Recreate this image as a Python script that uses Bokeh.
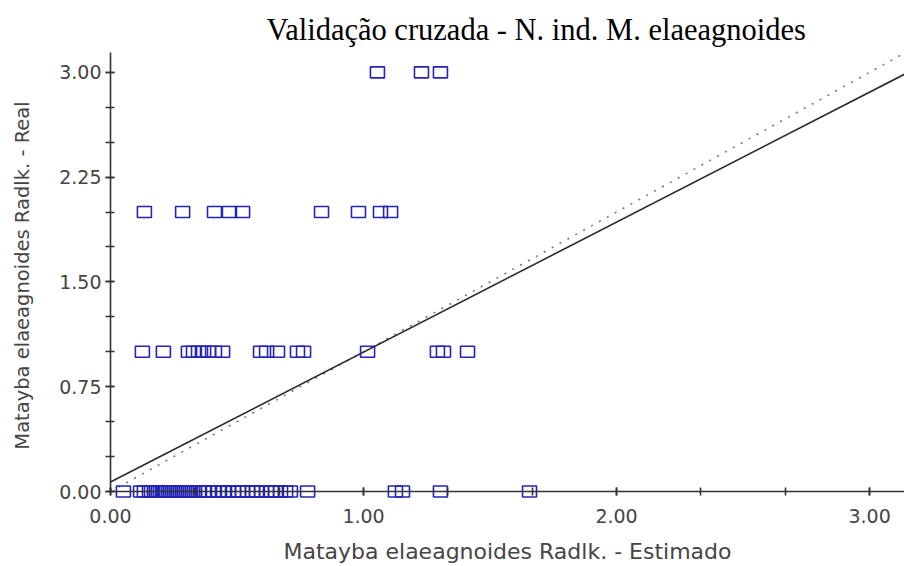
from bokeh.plotting import figure
from bokeh.models import (Range1d, SingleIntervalTicker, LinearAxis, Title,
                          PrintfTickFormatter, ColumnDataSource, Span)
from bokeh.embed import file_html
from bokeh.resources import INLINE

# ---- data ----
title_text = "Validação cruzada - N. ind. M. elaeagnoides"
x_label = "Matayba elaeagnoides Radlk. - Estimado"
y_label = "Matayba elaeagnoides Radlk. - Real"

est_real0 = [0.051, 0.119, 0.134, 0.154, 0.162, 0.174, 0.182, 0.190, 0.198,
             0.206, 0.213, 0.221, 0.229, 0.237, 0.245, 0.253, 0.261, 0.269,
             0.277, 0.285, 0.292, 0.300, 0.308, 0.316, 0.324, 0.332, 0.348,
             0.368, 0.387, 0.407, 0.427, 0.447, 0.466, 0.486, 0.506, 0.522,
             0.542, 0.561, 0.577, 0.597, 0.617, 0.636, 0.652, 0.672, 0.692,
             0.711, 0.779, 1.126, 1.154, 1.304, 1.656]
est_real1 = [0.126, 0.209, 0.308, 0.328, 0.348, 0.368, 0.387, 0.411, 0.443,
             0.593, 0.617, 0.660, 0.739, 0.763, 1.016, 1.292, 1.316, 1.411]
est_real2 = [0.134, 0.285, 0.411, 0.470, 0.522, 0.834, 0.980, 1.067, 1.107]
est_real3 = [1.055, 1.229, 1.304]

real_values = [0.0, 1.0, 2.0, 3.0]
est_groups = [est_real0, est_real1, est_real2, est_real3]

# regression of Real on Estimado (solid) and the 1:1 line (dotted)
reg_intercept = 0.068
reg_slope = 0.93
line_x = [0.0, 3.2]

x_tick_interval = 1.0
y_tick_interval = 0.75

# ---- build ----
xs, ys = [], []
for r, g in zip(real_values, est_groups):
    xs.extend(g)
    ys.extend([r] * len(g))
src = ColumnDataSource(dict(x=xs, y=ys))

p = figure(width=904, height=566, output_backend="svg", toolbar_location=None,
           x_range=Range1d(0, 3.138), y_range=Range1d(-0.05, 3.142),
           x_axis_type=None, y_axis_type=None,
           min_border_left=110, min_border_right=0, min_border_top=52,
           min_border_bottom=68)
p.outline_line_color = None
p.background_fill_color = "white"
p.border_fill_color = "white"

t = Title(text=title_text, align="left", offset=156, standoff=12,
          text_font="Liberation Serif", text_font_size="30.5px",
          text_font_style="normal", text_color="#000000")
p.add_layout(t, "above")

axis_color = "#333333"
label_color = "#454545"

xaxis = LinearAxis(ticker=SingleIntervalTicker(interval=x_tick_interval, num_minor_ticks=3),
                   formatter=PrintfTickFormatter(format="%.2f"),
                   axis_label=x_label)
xaxis.axis_line_color = None
xaxis.major_tick_line_color = axis_color
xaxis.minor_tick_line_color = axis_color
xaxis.major_tick_line_width = 1.6
xaxis.minor_tick_line_width = 1.6
xaxis.major_tick_in = 11
xaxis.major_tick_out = -3
xaxis.minor_tick_in = 11
xaxis.minor_tick_out = -3
xaxis.major_label_text_font = "DejaVu Sans"
xaxis.major_label_text_font_size = "19px"
xaxis.major_label_text_color = label_color
xaxis.major_label_standoff = 13
xaxis.axis_label_text_font = "DejaVu Sans"
xaxis.axis_label_text_font_size = "22px"
xaxis.axis_label_text_font_style = "normal"
xaxis.axis_label_text_color = label_color
xaxis.axis_label_standoff = 13
p.add_layout(xaxis, "below")

p.add_layout(Span(location=0, dimension="width", line_color=axis_color,
                  line_width=1.6))

yaxis = LinearAxis(ticker=SingleIntervalTicker(interval=y_tick_interval, num_minor_ticks=3),
                   formatter=PrintfTickFormatter(format="%.2f"),
                   axis_label=y_label, bounds=(0, 3.142))
yaxis.axis_line_color = axis_color
yaxis.axis_line_width = 1.6
yaxis.major_tick_line_color = axis_color
yaxis.minor_tick_line_color = axis_color
yaxis.major_tick_line_width = 1.6
yaxis.minor_tick_line_width = 1.6
yaxis.major_tick_in = 4
yaxis.major_tick_out = 5
yaxis.minor_tick_in = 4
yaxis.minor_tick_out = 5
yaxis.major_label_text_font = "DejaVu Sans"
yaxis.major_label_text_font_size = "19px"
yaxis.major_label_text_color = label_color
yaxis.major_label_standoff = 4
yaxis.axis_label_text_font = "DejaVu Sans"
yaxis.axis_label_text_font_size = "19.5px"
yaxis.axis_label_text_font_style = "normal"
yaxis.axis_label_text_color = label_color
yaxis.axis_label_standoff = 22
p.add_layout(yaxis, "left")

p.xgrid.visible = False
p.ygrid.visible = False

# lines
p.line(line_x, line_x, line_color="#777777", line_width=1.6, line_dash="2 7")
p.line(line_x, [reg_intercept + reg_slope * v for v in line_x],
       line_color="#2a2a2a", line_width=1.6)

# points
p.rect(x="x", y="y", width=14, height=11, width_units="screen",
       height_units="screen", fill_color=None, line_color="#2424b8",
       line_width=1.6, source=src)

open("out.html", "w").write(file_html(p, INLINE))
